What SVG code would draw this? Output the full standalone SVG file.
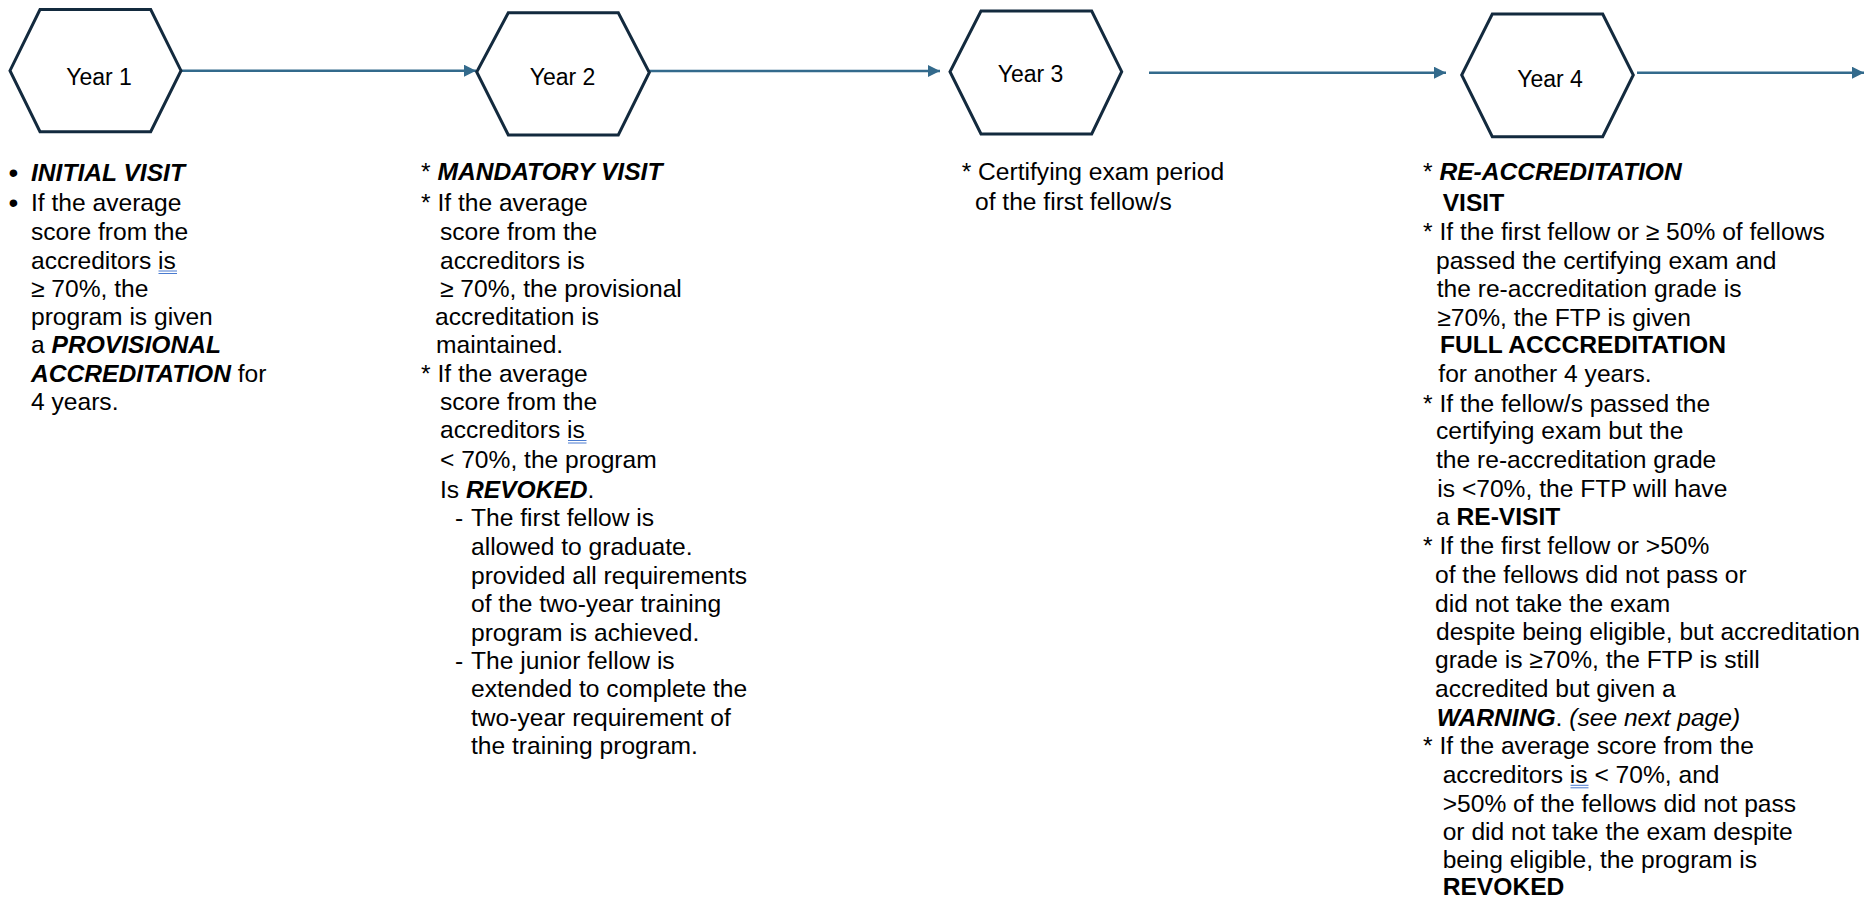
<svg xmlns="http://www.w3.org/2000/svg" width="1874" height="900" viewBox="0 0 1874 900">
<style>
  .hex { fill: #ffffff; stroke: #132a3e; stroke-width: 3; stroke-linejoin: miter; }
  .lbl { font-family: "Liberation Sans", Arial, sans-serif; font-size: 23px; fill: #000; text-anchor: middle; }
  .t { font-family: "Liberation Sans", Arial, sans-serif; font-size: 24.6px; fill: #000; }
  .bul { font-family: "Liberation Sans", Arial, sans-serif; font-size: 28px; fill: #000; }
  .bi { font-weight: bold; font-style: italic; }
  .b { font-weight: bold; }
  .i { font-style: italic; }
  .conn { stroke: #336a8c; stroke-width: 2.5; fill: none; marker-end: url(#arrow); }
  .ul { stroke: #4a7bd0; stroke-width: 1; }
</style>
<defs>
  <marker id="arrow" markerUnits="userSpaceOnUse" markerWidth="13" markerHeight="13" refX="12" refY="6" orient="auto">
    <path d="M0,0 L12,6 L0,12 Z" fill="#336a8c"/>
  </marker>
</defs>
<rect width="1874" height="900" fill="#ffffff"/>

<g id="connectors">
  <line class="conn" x1="181" y1="70.7" x2="476" y2="70.7"/>
  <line class="conn" x1="643" y1="71" x2="940" y2="71"/>
  <line class="conn" x1="1149" y1="72.7" x2="1446" y2="72.7"/>
  <line class="conn" x1="1637" y1="72.7" x2="1864" y2="72.7"/>
</g>

<g id="year1">
  <polygon class="hex" points="40,9.5 150.7,9.5 181,70.7 150.7,131.7 40,131.7 10,70.7"/>
  <text class="lbl" x="99" y="85">Year 1</text>
</g>
<g id="year2">
  <polygon class="hex" points="508.3,12.7 618.3,12.7 649.3,72.5 618.3,135 508.3,135 476.7,72" />
  <text class="lbl" x="562.5" y="85">Year 2</text>
</g>
<g id="year3">
  <polygon class="hex" points="981,11 1091.7,11 1121.7,71.7 1091.7,134 981,134 950,71.7"/>
  <text class="lbl" x="1030.5" y="81.7">Year 3</text>
</g>
<g id="year4">
  <polygon class="hex" points="1492.3,14 1602.7,14 1633.3,75 1602.7,136.7 1492.3,136.7 1461.7,75"/>
  <text class="lbl" x="1550" y="86.7">Year 4</text>
</g>

<g id="year1-notes">
  <text class="bul" x="8.5" y="181.5">•</text>
  <text class="t" x="31" y="180.7"><tspan class="bi">INITIAL VISIT</tspan></text>
  <text class="bul" x="8.5" y="211.8">•</text>
  <text class="t" x="31" y="211">If the average</text>
  <text class="t" x="31" y="240">score from the</text>
  <text class="t" x="31" y="269">accreditors is</text>
  <line class="ul" x1="158.5" y1="271" x2="177" y2="271"/>
  <line class="ul" x1="158.5" y1="273.5" x2="177" y2="273.5"/>
  <text class="t" x="31" y="296.7">≥ 70%, the</text>
  <text class="t" x="31" y="325">program is given</text>
  <text class="t" x="31" y="353.3">a <tspan class="bi">PROVISIONAL</tspan></text>
  <text class="t" x="31" y="381.7"><tspan class="bi">ACCREDITATION</tspan> for</text>
  <text class="t" x="31" y="410">4 years.</text>
</g>

<g id="year2-notes">
  <text class="t" x="421" y="180">* <tspan class="bi">MANDATORY VISIT</tspan></text>
  <text class="t" x="421" y="211">* If the average</text>
  <text class="t" x="440" y="240">score from the</text>
  <text class="t" x="440" y="269">accreditors is</text>
  <text class="t" x="440" y="296.7">≥ 70%, the provisional</text>
  <text class="t" x="435" y="325">accreditation is</text>
  <text class="t" x="436" y="353.3">maintained.</text>
  <text class="t" x="421" y="381.7">* If the average</text>
  <text class="t" x="440" y="410">score from the</text>
  <text class="t" x="440" y="438.3">accreditors is</text>
  <line class="ul" x1="568" y1="440.5" x2="586.5" y2="440.5"/>
  <line class="ul" x1="568" y1="443" x2="586.5" y2="443"/>
  <text class="t" x="440" y="468.3">&lt; 70%, the program</text>
  <text class="t" x="440" y="497.5">Is <tspan class="bi">REVOKED</tspan>.</text>
  <text class="t" x="455" y="525.8">-</text>
  <text class="t" x="471" y="525.8">The first fellow is</text>
  <text class="t" x="471" y="554.5">allowed to graduate.</text>
  <text class="t" x="471" y="583.6">provided all requirements</text>
  <text class="t" x="471" y="612.3">of the two-year training</text>
  <text class="t" x="471" y="641">program is achieved.</text>
  <text class="t" x="455" y="668.8">-</text>
  <text class="t" x="471" y="668.8">The junior fellow is</text>
  <text class="t" x="471" y="697.3">extended to complete the</text>
  <text class="t" x="471" y="726">two-year requirement of</text>
  <text class="t" x="471" y="754">the training program.</text>
</g>

<g id="year3-notes">
  <text class="t" x="961.7" y="180">* Certifying exam period</text>
  <text class="t" x="975" y="210">of the first fellow/s</text>
</g>

<g id="year4-notes">
  <text class="t" x="1423" y="180">* <tspan class="bi">RE-ACCREDITATION</tspan></text>
  <text class="t" x="1442.7" y="210.7"><tspan class="b">VISIT</tspan></text>
  <text class="t" x="1423" y="240">* If the first fellow or ≥ 50% of fellows</text>
  <text class="t" x="1436" y="269">passed the certifying exam and</text>
  <text class="t" x="1436.7" y="296.7">the re-accreditation grade is</text>
  <text class="t" x="1437.3" y="325.7">≥70%, the FTP is given</text>
  <text class="t" x="1440" y="353.3"><tspan class="b">FULL ACCCREDITATION</tspan></text>
  <text class="t" x="1438.3" y="382.3">for another 4 years.</text>
  <text class="t" x="1423" y="411.7">* If the fellow/s passed the</text>
  <text class="t" x="1436" y="439.3">certifying exam but the</text>
  <text class="t" x="1436" y="468.3">the re-accreditation grade</text>
  <text class="t" x="1437.3" y="497.3">is &lt;70%, the FTP will have</text>
  <text class="t" x="1436" y="525">a <tspan class="b">RE-VISIT</tspan></text>
  <text class="t" x="1423" y="554.3">* If the first fellow or &gt;50%</text>
  <text class="t" x="1435" y="583.3">of the fellows did not pass or</text>
  <text class="t" x="1435" y="611.7">did not take the exam</text>
  <text class="t" x="1436" y="640">despite being eligible, but accreditation</text>
  <text class="t" x="1435" y="668.3">grade is ≥70%, the FTP is still</text>
  <text class="t" x="1435" y="696.7">accredited but given a</text>
  <text class="t" x="1436.7" y="725.7"><tspan class="bi">WARNING</tspan>. <tspan class="i">(see next page)</tspan></text>
  <text class="t" x="1423" y="754.3">* If the average score from the</text>
  <text class="t" x="1442.7" y="783.3">accreditors is &lt; 70%, and</text>
  <line class="ul" x1="1570.5" y1="785.3" x2="1588.5" y2="785.3"/>
  <line class="ul" x1="1570.5" y1="787.8" x2="1588.5" y2="787.8"/>
  <text class="t" x="1442.7" y="812.3">&gt;50% of the fellows did not pass</text>
  <text class="t" x="1442.7" y="840">or did not take the exam despite</text>
  <text class="t" x="1442.7" y="868.3">being eligible, the program is</text>
  <text class="t" x="1442.7" y="895"><tspan class="b">REVOKED</tspan></text>
</g>
</svg>
